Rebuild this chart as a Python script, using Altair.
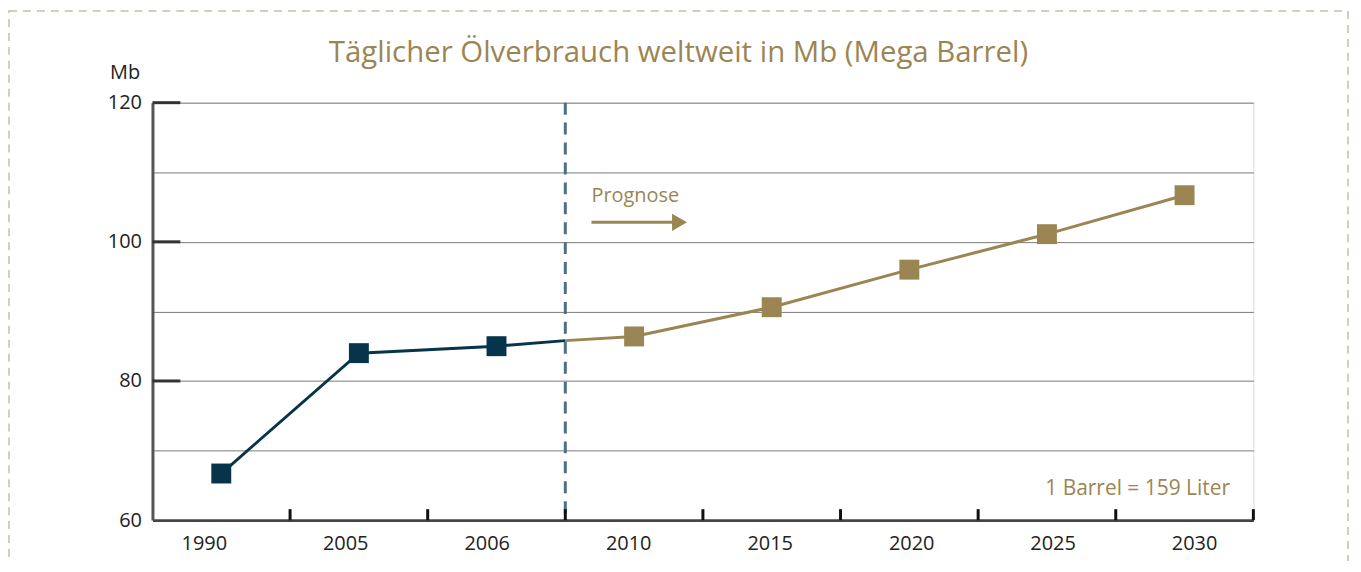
import altair as alt
import pandas as pd

# ---- data ----
years = ["1990", "2005", "2006", "2010", "2015", "2020", "2025", "2030"]
values = [66.7, 84.0, 85.0, 86.4, 90.6, 96.0, 101.1, 106.7]
forecast_start = 3          # index of first forecast category (2010)
split_value = 85.8          # value where the line changes colour at the dashed divider
title_text = "Täglicher Ölverbrauch weltweit in Mb (Mega Barrel)"
y_unit = "Mb"
prognose_label = "Prognose"
barrel_note = "1 Barrel = 159 Liter"
y_major = [80, 100, 120]

NAVY = "#06344a"
GOLD = "#9b8553"
DIVIDER = "#4e7080"
FONT = "Open Sans"
W, H = 1105, 419

idx = list(range(len(years)))
split_x = forecast_start - 0.5

pts = pd.DataFrame({
    "idx": idx,
    "year": years,
    "value": values,
    "phase": ["Ist" if i < forecast_start else "Prognose" for i in idx],
})
line_rows = []
for i, v in zip(idx, values):
    if i < forecast_start:
        line_rows.append({"idx": i, "value": v, "phase": "Ist"})
line_rows.append({"idx": split_x, "value": split_value, "phase": "Ist"})
line_rows.append({"idx": split_x, "value": split_value, "phase": "Prognose"})
for i, v in zip(idx, values):
    if i >= forecast_start:
        line_rows.append({"idx": i, "value": v, "phase": "Prognose"})
lines = pd.DataFrame(line_rows)

xscale = alt.Scale(domain=[-0.5, len(years) - 0.5], nice=False, zero=False)
yscale = alt.Scale(domain=[60, 120], nice=False, zero=False)
cscale = alt.Scale(domain=["Ist", "Prognose"], range=[NAVY, GOLD])
# the reference's year labels sit on a slightly wider spacing than the markers
label_scale = alt.Scale(domain=[0, len(years) - 1], range=[52, 1046], nice=False, zero=False)

xaxis = alt.Axis(values=idx, labels=False, ticks=False, grid=False,
                 domainColor="#444", domainWidth=3, title=None)
yaxis = alt.Axis(values=list(range(60, 121, 10)),
                 labelExpr="datum.value % 20 == 0 ? datum.label : ''",
                 ticks=False, grid=True, gridColor="#7a7a7a", gridWidth=1,
                 domainColor="#555", domainWidth=3,
                 labelFontSize=20, labelPadding=11, labelColor="#222", labelFont=FONT,
                 title=y_unit, titleAngle=0, titleX=-28, titleY=-30,
                 titleAlign="center", titleBaseline="middle", titleFontSize=20,
                 titleFontWeight="normal", titleColor="#222", titleFont=FONT)


def X(field="idx"):
    return alt.X(f"{field}:Q", scale=xscale, axis=xaxis)


def Y(field="value"):
    return alt.Y(f"{field}:Q", scale=yscale, axis=yaxis)


base_line = alt.Chart(lines).mark_line(strokeWidth=3).encode(
    x=X(), y=Y(),
    color=alt.Color("phase:N", scale=cscale, legend=None),
    detail="phase:N",
)

squares = alt.Chart(pts).mark_square(size=400, opacity=1).encode(
    x=X(), y=Y(),
    color=alt.Color("phase:N", scale=cscale, legend=None),
)

divider = alt.Chart(pd.DataFrame({"idx": [split_x]})).mark_rule(
    color=DIVIDER, strokeWidth=3, strokeDash=[12, 8]
).encode(x=X(), y=alt.value(0), y2=alt.value(H))

xticks = alt.Chart(pd.DataFrame({"idx": [i + 0.5 for i in idx]})).mark_rule(
    color="#111", strokeWidth=3
).encode(x=X(), y=alt.value(H), y2=alt.value(H - 11))

yticks = alt.Chart(pd.DataFrame({"value": y_major})).mark_rule(
    color="#333", strokeWidth=3
).encode(y=Y(), x=alt.value(0), x2=alt.value(28))

# annotations (positions in data units)
prog_x, prog_y = 2.69, 106.6
arrow_x0, arrow_x1, arrow_y = 2.69, 3.30, 102.8
note_x, note_y = 7.33, 64.4

prog_text = alt.Chart(pd.DataFrame({"idx": [prog_x], "value": [prog_y], "t": [prognose_label]})).mark_text(
    align="left", baseline="middle", fontSize=20, font=FONT, color=GOLD
).encode(x=X(), y=Y(), text="t:N")

arrow_line = alt.Chart(pd.DataFrame({"idx": [arrow_x0], "idx2": [arrow_x1], "value": [arrow_y]})).mark_rule(
    color=GOLD, strokeWidth=3
).encode(x=X(), x2="idx2:Q", y=Y())

arrow_head = alt.Chart(pd.DataFrame({"idx": [arrow_x1 + 0.03], "value": [arrow_y]})).mark_point(
    shape="triangle-right", size=300, filled=True, opacity=1, color=GOLD
).encode(x=X(), y=Y())

note = alt.Chart(pd.DataFrame({"idx": [note_x], "value": [note_y], "t": [barrel_note]})).mark_text(
    align="right", baseline="middle", fontSize=21, font=FONT, color=GOLD
).encode(x=X(), y=Y(), text="t:N")

title = alt.Chart(pd.DataFrame({"t": [title_text]})).mark_text(
    align="center", baseline="middle", fontSize=29.5, font=FONT, color=GOLD
).encode(x=alt.value(528), y=alt.value(-50), text="t:N")

border = alt.Chart(pd.DataFrame({"a": [0]})).mark_rect(
    fill="transparent", stroke="#c9bea6", strokeWidth=1.5, strokeDash=[8, 6]
).encode(x=alt.value(-144), x2=alt.value(1200), y=alt.value(-92), y2=alt.value(490))

main = alt.layer(
    base_line, border, divider, xticks, yticks, squares,
    prog_text, arrow_line, arrow_head, note, title
)

year_labels = alt.Chart(pts).mark_text(
    align="center", baseline="middle", fontSize=20, font=FONT, color="#222"
).encode(
    x=alt.X("idx:Q", scale=label_scale, axis=None),
    y=alt.value(H + 24),
    text="year:N",
)

chart = alt.layer(main, year_labels).resolve_scale(x="independent").properties(
    width=W, height=H,
    autosize=alt.AutoSizeParams(type="none"),
    padding={"left": 145, "top": 94, "right": 100, "bottom": 40},
).configure_view(strokeWidth=0).configure(background="white")

chart.save("out.html", embed_options={"renderer": "svg", "actions": False})
